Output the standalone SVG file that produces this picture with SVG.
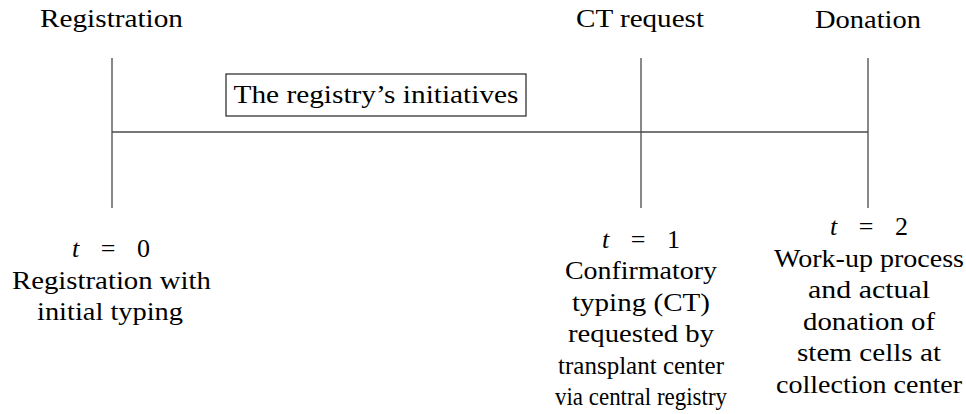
<svg xmlns="http://www.w3.org/2000/svg" width="966" height="414" viewBox="0 0 966 414">
<style>
text{font-size:26px;fill:#000;text-anchor:middle}
.ln{stroke:#4a4a4a;stroke-width:1.3;fill:none}
.box{stroke:#222;stroke-width:1.2;fill:#fff}
.it{font-style:italic}
</style>
<rect width="966" height="414" fill="#fff"/>
<g id="connectors">
<line class="ln" x1="112" y1="58" x2="112" y2="208"/>
<line class="ln" x1="641" y1="58" x2="641" y2="208"/>
<line class="ln" x1="868" y1="58" x2="868" y2="208"/>
<line class="ln" x1="112" y1="132" x2="868" y2="132"/>
</g>
<g font-family="'Liberation Serif', 'Times New Roman', 'DejaVu Serif', serif">
<g id="registration">
<text x="111.5" y="27" textLength="143" lengthAdjust="spacingAndGlyphs">Registration</text>
</g>
<g id="ct-request">
<text x="640" y="27" textLength="128" lengthAdjust="spacingAndGlyphs">CT request</text>
</g>
<g id="donation">
<text x="868" y="28" textLength="106" lengthAdjust="spacingAndGlyphs">Donation</text>
</g>
<g id="initiatives">
<rect class="box" x="226" y="74" width="300" height="42"/>
<text x="376" y="103" textLength="285" lengthAdjust="spacingAndGlyphs">The registry’s initiatives</text>
</g>
<g id="t0">
<text x="111" y="257" textLength="78" lengthAdjust="spacing"><tspan class="it">t</tspan> = 0</text>
<text x="111.5" y="289" textLength="199" lengthAdjust="spacingAndGlyphs">Registration with</text>
<text x="110" y="320" textLength="146" lengthAdjust="spacingAndGlyphs">initial typing</text>
</g>
<g id="t1">
<text x="641" y="248" textLength="78" lengthAdjust="spacing"><tspan class="it">t</tspan> = 1</text>
<text x="641" y="279" textLength="152" lengthAdjust="spacingAndGlyphs">Confirmatory</text>
<text x="641" y="311" textLength="138" lengthAdjust="spacingAndGlyphs">typing (CT)</text>
<text x="641" y="342" textLength="146" lengthAdjust="spacingAndGlyphs">requested by</text>
<text x="641" y="374" textLength="166" lengthAdjust="spacingAndGlyphs">transplant center</text>
<text x="641" y="405" textLength="172" lengthAdjust="spacingAndGlyphs">via central registry</text>
</g>
<g id="t2">
<text x="869" y="235" textLength="78" lengthAdjust="spacing"><tspan class="it">t</tspan> = 2</text>
<text x="869" y="267" textLength="190" lengthAdjust="spacingAndGlyphs">Work-up process</text>
<text x="869" y="298" textLength="122" lengthAdjust="spacingAndGlyphs">and actual</text>
<text x="869" y="330" textLength="132" lengthAdjust="spacingAndGlyphs">donation of</text>
<text x="869" y="361" textLength="144" lengthAdjust="spacingAndGlyphs">stem cells at</text>
<text x="869" y="393" textLength="186" lengthAdjust="spacingAndGlyphs">collection center</text>
</g>
</g>
</svg>
